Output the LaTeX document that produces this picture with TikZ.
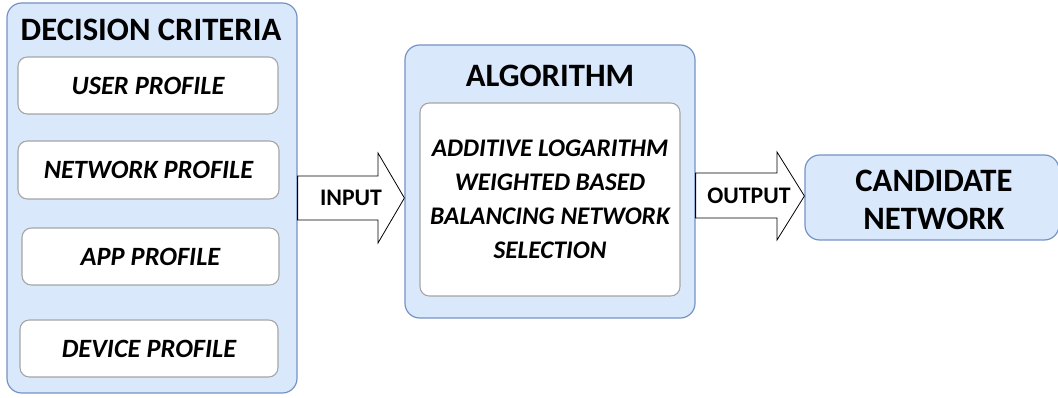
\documentclass[tikz,border=0pt]{standalone}
\usepackage{fontspec}
\setmainfont{Carlito}
\usepackage{xcolor}
\usetikzlibrary{positioning}

\definecolor{boxblue}{RGB}{218,232,252}
\definecolor{edgeblue}{RGB}{116,146,196}
\definecolor{edgegray}{RGB}{165,165,165}

\tikzset{
	outerbox/.style={draw=edgeblue,fill=boxblue,line width=0.9pt,rounded corners=11pt},
	innerbox/.style={draw=edgegray,fill=white,line width=0.8pt,rounded corners=7pt},
	fatarrow/.style={draw=black,fill=white,line width=0.6pt},
	boxsize/.style 2 args={minimum width=#1*0.75pt,minimum height=#2*0.75pt,inner sep=0pt},
	itemtext/.style={font=\fontsize{19.8}{23}\selectfont\bfseries\itshape},
	headtext/.style={font=\fontsize{24.5}{28}\selectfont\bfseries},
	arrowtext/.style={font=\fontsize{17.8}{20}\selectfont\bfseries}
}

\begin{document}
\begin{tikzpicture}[x=0.75pt,y=-0.75pt]
	\useasboundingbox (0,0) rectangle (1058,398);

	% decision criteria
	\node[outerbox,boxsize={290}{390}] (crit) at (152,198) {};
	\node[headtext] (crittitle) at (151,30) {DECISION CRITERIA};
	\node[innerbox,boxsize={260}{57},itemtext] (user) at (148,85.5) {USER PROFILE};
	\node[innerbox,boxsize={261}{58},itemtext] (netw) at (148.5,170) {NETWORK PROFILE};
	\node[innerbox,boxsize={257}{57},itemtext] (app) at (150.5,256.5) {APP PROFILE};
	\node[innerbox,boxsize={258}{57},itemtext] (dev) at (149,348.5) {DEVICE PROFILE};

	% algorithm
	\node[outerbox,boxsize={290}{273}] (algo) at (550,181.5) {};
	\node[headtext] (algotitle) at (550,76) {ALGORITHM};
	\node[innerbox,boxsize={260}{193},align=center,
		font=\fontsize{19}{25.5}\selectfont\bfseries\itshape] (algobody) at (550,199.5)
		{ADDITIVE LOGARITHM\\WEIGHTED BASED\\BALANCING NETWORK\\SELECTION};

	% candidate
	\node[outerbox,boxsize={254}{85}] (cand) at (932,197.5) {};
	\node[align=center,font=\fontsize{24.5}{29}\selectfont\bfseries] (candtext) at (934,200)
		{CANDIDATE\\NETWORK};

	% input / output arrows
	\draw[fatarrow] (crit.east |- 0,176) -- (378,176) -- (378,153) -- (algo.west |- 0,198)
		-- (378,243) -- (378,220) -- (crit.east |- 0,220) -- cycle;
	\node[arrowtext] (in) at (351,198) {INPUT};

	\draw[fatarrow] (algo.east |- 0,173) -- (777,173) -- (777,152) -- (cand.west |- 0,196)
		-- (777,240) -- (777,218) -- (algo.east |- 0,218) -- cycle;
	\node[arrowtext] (out) at (749,196) {OUTPUT};
\end{tikzpicture}
\end{document}
